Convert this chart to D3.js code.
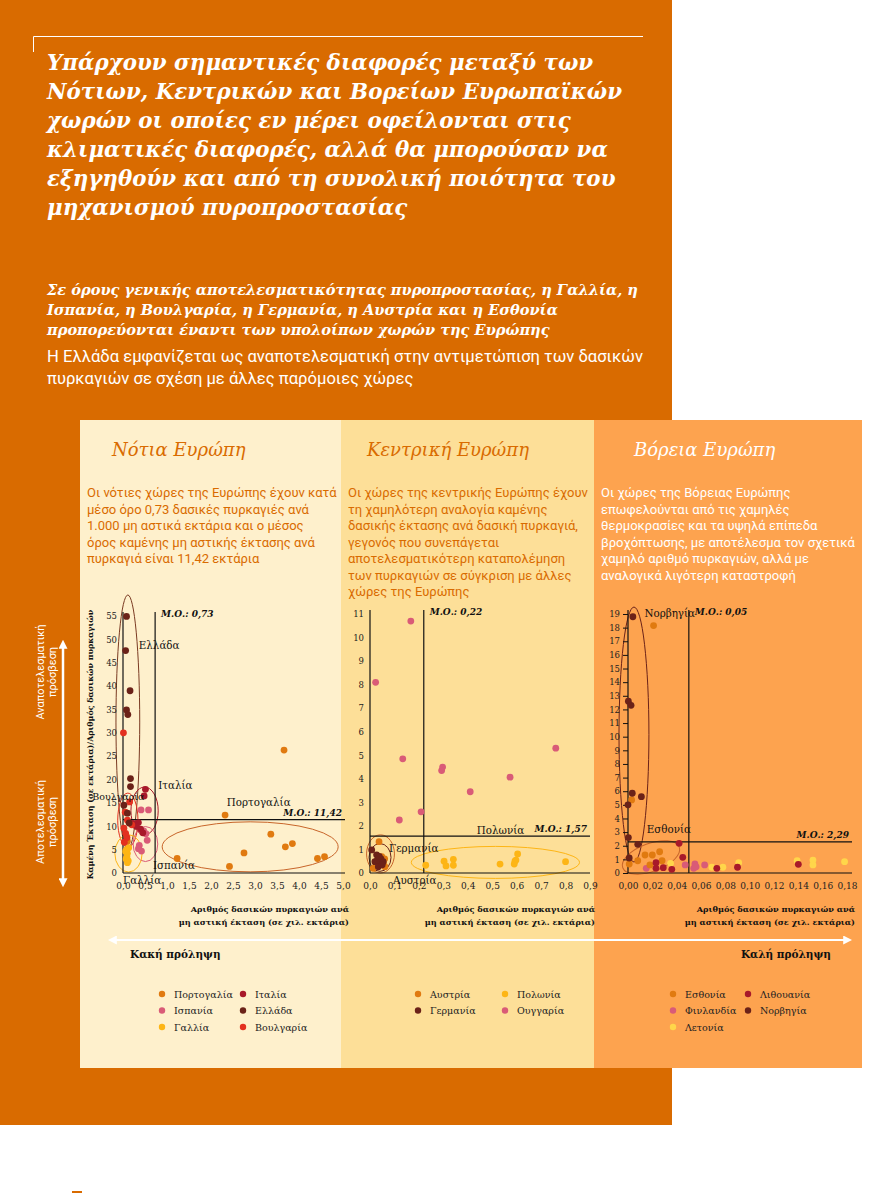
<!DOCTYPE html>
<html><head><meta charset="utf-8">
<script src="https://cdn.jsdelivr.net/npm/d3@7"></script>
<style>body{margin:0;background:#fff}svg{display:block}</style>
</head><body>
<svg id="c" width="880" height="1195"></svg>
<script>
// ---------------- DATA ----------------
const titleLines = [
  "Υπάρχουν σημαντικές διαφορές μεταξύ των",
  "Νότιων, Κεντρικών και Βορείων Ευρωπαϊκών",
  "χωρών οι οποίες εν μέρει οφείλονται στις",
  "κλιματικές διαφορές, αλλά θα μπορούσαν να",
  "εξηγηθούν και από τη συνολική ποιότητα του",
  "μηχανισμού πυροπροστασίας"
];
const subtitleBold = [
  "Σε όρους γενικής αποτελεσματικότητας πυροπροστασίας, η Γαλλία, η",
  "Ισπανία, η Βουλγαρία, η Γερμανία, η Αυστρία και η Εσθονία",
  "προπορεύονται έναντι των υπολοίπων χωρών της Ευρώπης"
];
const subtitleNormal = [
  "Η Ελλάδα εμφανίζεται ως αναποτελεσματική στην αντιμετώπιση των δασικών",
  "πυρκαγιών σε σχέση με άλλες παρόμοιες χώρες"
];
const regionNames = ["Νότια Ευρώπη", "Κεντρική Ευρώπη", "Βόρεια Ευρώπη"];
const southText = [
  "Οι νότιες χώρες της Ευρώπης έχουν κατά",
  "μέσο όρο 0,73 δασικές πυρκαγιές ανά",
  "1.000 μη αστικά εκτάρια και ο μέσος",
  "όρος καμένης μη αστικής έκτασης ανά",
  "πυρκαγιά είναι 11,42 εκτάρια"
];
const centralText = [
  "Οι χώρες της κεντρικής Ευρώπης έχουν",
  "τη χαμηλότερη αναλογία καμένης",
  "δασικής έκτασης ανά δασική πυρκαγιά,",
  "γεγονός που συνεπάγεται",
  "αποτελεσματικότερη καταπολέμηση",
  "των πυρκαγιών σε σύγκριση με άλλες",
  "χώρες της Ευρώπης"
];
const northText = [
  "Οι χώρες της Βόρειας Ευρώπης",
  "επωφελούνται από τις χαμηλές",
  "θερμοκρασίες και τα υψηλά επίπεδα",
  "βροχόπτωσης, με αποτέλεσμα τον σχετικά",
  "χαμηλό αριθμό πυρκαγιών, αλλά με",
  "αναλογικά λιγότερη καταστροφή"
];
const yAxisTitle = "Καμένη Έκταση (σε εκτάρια)/Αριθμός δασικών πυρκαγιών";
const xAxisTitle = ["Αριθμός δασικών πυρκαγιών ανά", "μη αστική έκταση (σε χιλ. εκτάρια)"];
const sideLabels = [["Αναποτελεσματική", "πρόσβεση"], ["Αποτελεσματική", "πρόσβεση"]];
const preventionLabels = ["Κακή πρόληψη", "Καλή πρόληψη"];

const southXTicks = [0, 0.5, 1, 1.5, 2, 2.5, 3, 3.5, 4, 4.5, 5];
const southYTicks = [0, 5, 10, 15, 20, 25, 30, 35, 40, 45, 50, 55];
const centralXTicks = [0, 0.1, 0.2, 0.3, 0.4, 0.5, 0.6, 0.7, 0.8, 0.9];
const centralYTicks = [0, 1, 2, 3, 4, 5, 6, 7, 8, 9, 10, 11];
const northXTicks = [0, 0.02, 0.04, 0.06, 0.08, 0.10, 0.12, 0.14, 0.16, 0.18];
const northYTicks = [0,1,2,3,4,5,6,7,8,9,10,11,12,13,14,15,16,17,18,19];

const meanFires = [0.73, 0.22, 0.05];   // vertical Μ.Ο. lines
const meanBurnt = [11.42, 1.57, 2.29];  // horizontal Μ.Ο. lines

// [fires per 1000 ha, burnt ha per fire]
const portugal = [[2.32,12.4],[3.36,8.3],[3.85,6.3],[3.69,5.6],[2.75,4.3],[4.42,3.1],[4.58,3.5],[1.23,3.1],[2.42,1.4],[3.66,26.3],[0.1,6.8]];
const italy = [[0.51,17.9],[0.48,16.5],[0.35,10.8],[0.23,10.6],[0.40,9.4],[0.45,8.6],[0.30,10.0]];
const spain = [[0.41,13.5],[0.58,13.5],[0.47,9.0],[0.55,7.0],[0.37,5.9],[0.35,5.2],[0.42,4.7],[0.52,8.4]];
const greece = [[0.08,54.9],[0.06,47.6],[0.16,39.0],[0.08,34.9],[0.11,33.9],[0.17,20.2],[0.17,18.5],[0.10,12.8],[0.02,14.5],[0.14,10.7]];
const france = [[0.08,5.0],[0.10,4.2],[0.09,3.5],[0.07,3.0],[0.12,2.6],[0.10,2.2],[0.06,4.6],[0.13,5.4]];
const bulgaria = [[0.01,30.0],[0.15,15.2],[0.05,13.0],[0.10,11.3],[0.02,9.6],[0.06,8.5],[0.09,7.6],[0.03,6.6],[0.20,10.3]];

const hungary = [[0.167,10.7],[0.023,8.1],[0.134,4.85],[0.297,4.5],[0.293,4.35],[0.573,4.07],[0.76,5.3],[0.41,3.45],[0.209,2.6],[0.12,2.25]];
const poland = [[0.228,0.33],[0.303,0.5],[0.311,0.3],[0.341,0.58],[0.341,0.33],[0.532,0.38],[0.593,0.5],[0.597,0.55],[0.604,0.81],[0.59,0.38],[0.80,0.48]];
const germany = [[0.007,0.98],[0.027,0.77],[0.02,0.48],[0.041,0.41],[0.034,0.27],[0.054,0.48],[0.045,0.6],[0.03,0.55],[0.05,0.35],[0.038,0.7]];
const austria = [[0.037,1.33],[0.061,0.27],[0.048,0.69],[0.013,0.2],[0.06,0.6],[0.025,0.35],[0.055,0.45]];

const estonia = [[0.021,18.15],[0.003,5.36],[0.014,1.32],[0.02,1.32],[0.026,1.56],[0.028,0.9],[0.008,0.9],[0.001,0.66],[0.018,0.59]];
const lithuania = [[0.042,2.18],[0.045,1.15],[0.023,0.76],[0.023,0.34],[0.029,0.39],[0.036,0.27],[0.073,0.34],[0.09,0.42],[0.14,0.64]];
const finland = [[0.015,0.34],[0.047,0.59],[0.055,0.66],[0.063,0.59],[0.054,0.34],[0.056,0.45]];
const norway = [[0.004,18.8],[0.0003,12.6],[0.0025,12.3],[0.0035,5.85],[0.011,5.6],[0.0,5.0],[0.0003,2.6],[0.008,2.1],[0.001,1.1]];
const latvia = [[0.035,0.71],[0.069,0.42],[0.078,0.42],[0.091,0.76],[0.139,0.9],[0.152,0.95],[0.152,0.59],[0.178,0.83]];

const southCountries = ["Πορτογαλία", "Ισπανία", "Γαλλία", "Ιταλία", "Ελλάδα", "Βουλγαρία"];
const centralCountries = ["Αυστρία", "Γερμανία", "Πολωνία", "Ουγγαρία"];
const northCountries = ["Εσθονία", "Φινλανδία", "Λετονία", "Λιθουανία", "Νορβηγία"];

// ---------------- STYLE ----------------
const C = {
  orange: "#E07A10", pink: "#D95B77", yellow: "#FDB515", darkred: "#A8192A",
  brown: "#6B2218", red: "#E3301F", lightyellow: "#FFD64A"
};
const SERIF = "'DejaVu Serif', serif";
const SANS = "Roboto, 'Liberation Sans', sans-serif";
const BG_ORANGE = "#D96B00";

const svg = d3.select("#c");
svg.append("rect").attr("width", 880).attr("height", 1195).attr("fill", "#fff");
svg.append("rect").attr("x", 0).attr("y", 0).attr("width", 672).attr("height", 1125).attr("fill", BG_ORANGE);
svg.append("rect").attr("x", 72).attr("y", 1191).attr("width", 10).attr("height", 2).attr("fill", BG_ORANGE);

const defs = svg.append("defs");
defs.append("marker").attr("id", "arw").attr("viewBox", "0 0 10 10").attr("refX", 2).attr("refY", 5)
  .attr("markerWidth", 9).attr("markerHeight", 9).attr("orient", "auto-start-reverse")
  .attr("markerUnits", "userSpaceOnUse")
  .append("path").attr("d", "M0,0 L10,5 L0,10 z").attr("fill", "#fff");

// title frame line
svg.append("path").attr("d", "M33.5,52 V36.5 H643").attr("stroke", "#fff").attr("fill", "none").attr("stroke-width", 1);

svg.append("g").selectAll("text").data(titleLines).join("text")
  .attr("x", 47).attr("y", (d, i) => 70 + i * 29)
  .attr("font-family", SERIF).attr("font-weight", "bold").attr("font-style", "italic")
  .attr("font-size", 21.4).attr("fill", "#fff").text(d => d);

svg.append("g").selectAll("text").data(subtitleBold).join("text")
  .attr("x", 47).attr("y", (d, i) => 295 + i * 20)
  .attr("font-family", SERIF).attr("font-weight", "bold").attr("font-style", "italic")
  .attr("font-size", 14.6).attr("fill", "#fff").text(d => d);

svg.append("g").selectAll("text").data(subtitleNormal).join("text")
  .attr("x", 47).attr("y", (d, i) => 362 + i * 22)
  .attr("font-family", SANS).attr("font-size", 16.6).attr("fill", "#fff").text(d => d);

// ---------------- PANELS ----------------
const panels = [
  { x0: 80, x1: 341, bg: "#FEF0CC", fg: BG_ORANGE, name: regionNames[0], text: southText, nameX: 112 },
  { x0: 341, x1: 594, bg: "#FDDF98", fg: BG_ORANGE, name: regionNames[1], text: centralText, nameX: 367 },
  { x0: 594, x1: 862, bg: "#FDA34F", fg: "#fff", name: regionNames[2], text: northText, nameX: 634 }
];
panels.forEach(p => {
  svg.append("rect").attr("x", p.x0).attr("y", 420).attr("width", p.x1 - p.x0).attr("height", 648).attr("fill", p.bg);
  svg.append("text").attr("x", p.nameX).attr("y", 456).attr("font-family", SERIF).attr("font-style", "italic")
    .attr("font-size", 18).attr("fill", p.fg).text(p.name);
  svg.append("g").selectAll("text").data(p.text).join("text")
    .attr("x", p.x0 + 7).attr("y", (d, i) => 497 + i * 16.5)
    .attr("font-family", SANS).attr("font-size", 13).attr("fill", p.fg).text(d => d);
});

// ---------------- CHARTS ----------------
const fmt = dec => d => d3.format("." + dec + "f")(d).replace(".", ",");

const charts = [
  {
    xDomain: [0, 5], xRange: [123, 343], yDomain: [0, 55], yRange: [873, 616], lineEnd: 345,
    xTicks: southXTicks, yTicks: southYTicks, xFmt: fmt(1), tickSize: 0, mean: 0,
    series: [
      { data: france, color: C.yellow }, { data: portugal, color: C.orange },
      { data: spain, color: C.pink }, { data: italy, color: C.darkred },
      { data: bulgaria, color: C.red }, { data: greece, color: C.brown }
    ],
    ellipses: [
      { c: [0.11, 32.3], r: [0.27, 27.2], color: "#7A3A22" },
      { c: [0.49, 13.3], r: [0.31, 5.1], color: C.darkred },
      { c: [0.11, 11.3], r: [0.23, 5.8], color: C.red },
      { c: [0.51, 6.2], r: [0.28, 3.75], color: C.pink },
      { c: [0.125, 4.2], r: [0.31, 4.0], color: C.yellow },
      { c: [2.89, 5.6], r: [2.0, 5.35], color: "#C8652A" }
    ],
    labels: [
      { t: "Ελλάδα", p: [0.36, 47.9] }, { t: "Ιταλία", p: [0.8, 18.0] },
      { t: "Βουλγαρία", p: [-0.7, 15.6], s: 9.5 }, { t: "Πορτογαλία", p: [2.36, 14.3] },
      { t: "Ισπανία", p: [0.68, 0.86] }, { t: "Γαλλία", p: [0.0, -2.3] }
    ],
    legend: { names: southCountries, colors: [C.orange, C.pink, C.yellow, C.darkred, C.brown, C.red], cols: [162, 243] },
    yTitle: true, xTitleX: 349
  },
  {
    xDomain: [0, 0.9], xRange: [370, 590], yDomain: [0, 11], yRange: [873, 614], lineEnd: 590,
    xTicks: centralXTicks, yTicks: centralYTicks, xFmt: fmt(1), tickSize: 0, mean: 1,
    series: [
      { data: hungary, color: C.pink }, { data: poland, color: C.yellow },
      { data: austria, color: C.orange }, { data: germany, color: C.brown }
    ],
    ellipses: [
      { c: [0.043, 0.81], r: [0.057, 0.81], color: "#C8652A" },
      { c: [0.041, 0.66], r: [0.045, 0.59], color: C.brown },
      { c: [0.513, 0.45], r: [0.344, 0.68], color: C.yellow }
    ],
    labels: [
      { t: "Γερμανία", p: [0.078, 0.89] }, { t: "Αυστρία", p: [0.094, -0.45] },
      { t: "Πολωνία", p: [0.437, 1.66] }
    ],
    legend: { names: centralCountries, colors: [C.orange, C.brown, C.yellow, C.pink], cols: [418, 505] },
    yTitle: false, xTitleX: 595
  },
  {
    xDomain: [0, 0.18], xRange: [628, 847], yDomain: [0, 19], yRange: [873, 614], lineEnd: 852,
    xTicks: northXTicks, yTicks: northYTicks, xFmt: fmt(2), tickSize: 5, mean: 2,
    series: [
      { data: latvia, color: C.lightyellow }, { data: finland, color: C.pink },
      { data: estonia, color: C.orange }, { data: lithuania, color: C.darkred },
      { data: norway, color: C.brown }
    ],
    ellipses: [
      { c: [0.0049, 10.16], r: [0.0123, 9.35], color: C.brown },
      { c: [0.0189, 1.14], r: [0.0247, 1.03], color: "#C8652A", rot: -20 }
    ],
    labels: [
      { t: "Νορβηγία", p: [0.0135, 18.75] }, { t: "Εσθονία", p: [0.0154, 2.96] }
    ],
    legend: { names: northCountries, colors: [C.orange, C.pink, C.lightyellow, C.darkred, C.brown], cols: [673, 748] },
    yTitle: false, xTitleX: 855
  }
];

charts.forEach(cfg => {
  const x = d3.scaleLinear().domain(cfg.xDomain).range(cfg.xRange);
  const y = d3.scaleLinear().domain(cfg.yDomain).range(cfg.yRange);
  const g = svg.append("g");
  const top = cfg.yRange[1] - 4;

  // ellipses
  cfg.ellipses.forEach(e => {
    const cx = x(e.c[0]), cy = y(e.c[1]);
    const rx = x(e.c[0] + e.r[0]) - cx, ry = cy - y(e.c[1] + e.r[1]);
    g.append("ellipse").attr("cx", cx).attr("cy", cy).attr("rx", rx).attr("ry", ry)
      .attr("fill", "none").attr("stroke", e.color).attr("stroke-width", 1)
      .attr("transform", e.rot ? `rotate(${e.rot},${cx},${cy})` : null);
  });

  // axis + mean lines
  const mx = meanFires[cfg.mean], my = meanBurnt[cfg.mean];
  const L = (x1, y1, x2, y2) => g.append("line").attr("x1", x1).attr("y1", y1).attr("x2", x2).attr("y2", y2)
    .attr("stroke", "#111").attr("stroke-width", 1.2);
  L(x(0), top, x(0), y(0));
  L(x(0), y(0), cfg.lineEnd, y(0));
  L(x(mx), top, x(mx), y(0));
  L(x(0), y(my), cfg.lineEnd, y(my));

  // axes labels
  const ya = g.append("g").attr("transform", `translate(${x(0)},0)`)
    .call(d3.axisLeft(y).tickValues(cfg.yTicks).tickFormat(d => d).tickSize(cfg.tickSize).tickPadding(cfg.tickSize ? 3 : 6));
  ya.select(".domain").remove();
  ya.selectAll("line").attr("stroke", "#111");
  ya.selectAll("text").attr("font-family", SERIF).attr("font-size", 8.5).attr("fill", "#222");

  const xa = g.append("g").attr("transform", `translate(0,${y(0)})`)
    .call(d3.axisBottom(x).tickValues(cfg.xTicks).tickFormat(cfg.xFmt).tickSize(0).tickPadding(10));
  xa.select(".domain").remove();
  xa.selectAll("text").attr("font-family", SERIF).attr("font-size", 9).attr("fill", "#222");

  // mean labels
  g.append("text").attr("x", x(mx) + 6).attr("y", top + 5)
    .attr("font-family", SERIF).attr("font-weight", "bold").attr("font-style", "italic").attr("font-size", 9)
    .attr("fill", "#111").text("Μ.Ο.: " + d3.format(".2f")(mx).replace(".", ","));
  g.append("text").attr("x", cfg.lineEnd - 3).attr("y", y(my) - 4).attr("text-anchor", "end")
    .attr("font-family", SERIF).attr("font-weight", "bold").attr("font-style", "italic").attr("font-size", 9)
    .attr("fill", "#111").text("Μ.Ο.: " + d3.format(".2f")(my).replace(".", ","));

  // points
  cfg.series.forEach(s => {
    g.append("g").selectAll("circle").data(s.data).join("circle")
      .attr("cx", d => x(d[0])).attr("cy", d => y(d[1])).attr("r", 3.4).attr("fill", s.color);
  });

  // country labels
  cfg.labels.forEach(l => {
    g.append("text").attr("x", x(l.p[0])).attr("y", y(l.p[1]))
      .attr("font-family", SERIF).attr("font-size", l.s || 10.3).attr("fill", "#111").text(l.t);
  });

  // axis titles
  if (cfg.yTitle) {
    g.append("text").attr("transform", `translate(93,${(y(0) + top) / 2 + 2}) rotate(-90)`)
      .attr("text-anchor", "middle").attr("font-family", SERIF).attr("font-weight", "bold")
      .attr("font-size", 7.9).attr("fill", "#111").text(yAxisTitle);
  }
  g.append("g").selectAll("text").data(xAxisTitle).join("text")
    .attr("x", cfg.xTitleX).attr("y", (d, i) => 912 + i * 13).attr("text-anchor", "end")
    .attr("font-family", SERIF).attr("font-weight", "bold").attr("font-size", 8.2).attr("fill", "#111").text(d => d);

  // legend
  const lg = g.append("g");
  const perCol = Math.ceil(cfg.legend.names.length / 2);
  cfg.legend.names.forEach((n, i) => {
    const col = Math.floor(i / perCol), row = i % perCol;
    const lx = cfg.legend.cols[col], ly = 994 + row * 16.5;
    lg.append("circle").attr("cx", lx).attr("cy", ly).attr("r", 3.2).attr("fill", cfg.legend.colors[i]);
    lg.append("text").attr("x", lx + 12).attr("y", ly + 3.5).attr("font-family", SERIF).attr("font-size", 9.5)
      .attr("fill", "#222").text(n);
  });
});

// ---------------- ARROWS / SIDE LABELS ----------------
svg.append("line").attr("x1", 63).attr("y1", 647).attr("x2", 63).attr("y2", 880)
  .attr("stroke", "#fff").attr("stroke-width", 2.5)
  .attr("marker-start", "url(#arw)").attr("marker-end", "url(#arw)");
[[672, sideLabels[0]], [822, sideLabels[1]]].forEach(([cy, lines]) => {
  lines.forEach((t, i) => {
    svg.append("text").attr("transform", `translate(${44 + i * 12},${cy}) rotate(-90)`)
      .attr("text-anchor", "middle").attr("font-family", SANS).attr("font-size", 11).attr("fill", "#fff").text(t);
  });
});
svg.append("line").attr("x1", 115).attr("y1", 940).attr("x2", 845).attr("y2", 940)
  .attr("stroke", "#fff").attr("stroke-width", 2)
  .attr("marker-start", "url(#arw)").attr("marker-end", "url(#arw)");
svg.append("text").attr("x", 130).attr("y", 958).attr("font-family", SERIF).attr("font-weight", "bold")
  .attr("font-size", 10.5).attr("fill", "#111").text(preventionLabels[0]);
svg.append("text").attr("x", 831).attr("y", 958).attr("text-anchor", "end").attr("font-family", SERIF).attr("font-weight", "bold")
  .attr("font-size", 10.5).attr("fill", "#111").text(preventionLabels[1]);
</script>
</body></html>
